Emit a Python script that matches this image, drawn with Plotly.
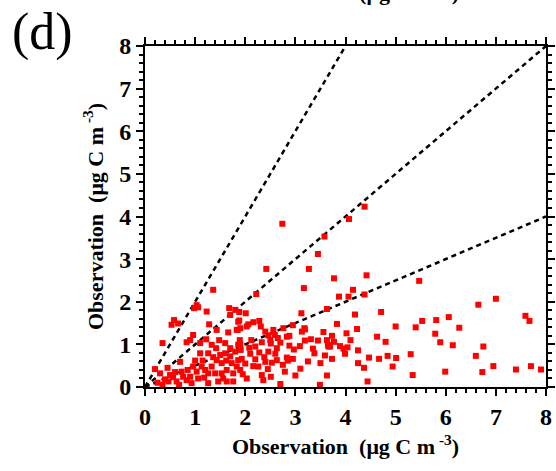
import plotly.graph_objects as go

# Observation pairs (x, y)
obs_x = [
    2.74, 2.42, 1.36, 3.58, 3.45, 3.27, 3.77, 3.17, 4.07, 4.38, 4.42, 5.47, 4.15, 4.38, 3.87, 4.06, 2.22,
    7.00, 6.65, 6.06, 5.81, 7.59, 7.67, 6.27, 5.79, 5.89, 6.14, 6.75, 6.60, 6.95, 5.99, 6.73, 7.40, 7.70, 7.90,
    4.19, 4.71, 3.83, 4.23, 5.00, 5.53, 5.40, 3.73, 4.02, 4.63, 4.10, 4.80, 3.69, 3.89, 4.04, 3.96, 3.99, 4.25,
    3.73, 4.47, 4.67, 4.84, 5.01, 5.30, 4.25, 4.37, 4.94, 5.34, 4.44,
    1.88, 2.01, 1.88, 2.06, 2.16, 2.28, 2.31, 3.12, 3.63, 3.19, 1.85, 2.46, 2.88, 3.56, 1.89, 2.12, 2.33, 2.51,
    2.70, 2.88, 2.97, 3.09, 3.19, 3.31, 3.45, 3.63, 3.65, 3.77, 1.91, 2.10, 2.28, 2.46, 2.63, 2.83, 2.85, 3.38,
    3.50, 3.59, 1.93, 2.00, 2.16, 2.26, 2.40, 2.53, 2.63, 3.10, 2.79, 1.90, 2.03, 2.33, 2.36, 2.51, 2.70, 3.49,
    3.63, 2.56, 2.59, 2.76, 2.83, 3.13, 3.18, 3.66, 2.40, 2.50, 1.90, 2.03,
    1.03, 0.98, 1.06, 1.23, 1.68, 0.58, 0.66, 0.53, 1.28, 1.70, 1.80, 0.35, 0.96, 0.90, 0.83, 1.66, 1.33, 1.48,
    1.42, 1.10, 1.26, 1.60, 1.70, 1.60, 0.20, 0.30, 0.35, 0.50, 0.56, 0.47, 0.63, 0.73, 0.76, 0.83, 0.90, 0.93,
    0.70, 0.96, 1.03, 1.13, 1.20, 1.26, 1.06, 1.33, 1.43, 1.53, 1.40, 1.53, 1.63, 1.73, 1.76, 1.83, 1.86, 1.26,
    1.46, 1.63, 1.76, 1.50, 1.80, 1.86, 1.43, 1.83, 1.86,
    0.40, 0.60, 0.68, 0.85, 1.00, 1.15, 1.18, 1.36, 1.56, 1.70, 1.95, 2.20, 2.20, 2.45, 2.60, 2.75, 2.95, 3.00,
    3.25, 3.35, 1.10, 1.22, 2.65, 2.95, 0.25, 0.45, 1.90, 2.08, 2.38, 1.62,
]
obs_y = [
    3.83, 2.77, 2.28, 3.53, 3.12, 2.77, 2.55, 2.32, 3.94, 4.23, 2.62, 2.49, 2.28, 2.17, 2.12, 2.12, 2.18,
    2.07, 1.93, 1.64, 1.57, 1.67, 1.55, 1.39, 1.25, 1.05, 0.98, 0.95, 0.73, 0.49, 0.36, 0.35, 0.41, 0.49, 0.41,
    1.70, 1.76, 1.48, 1.36, 1.42, 1.55, 1.40, 1.20, 1.26, 1.18, 1.10, 1.06, 0.95, 0.96, 0.93, 0.90, 0.78, 0.86,
    0.66, 0.69, 0.66, 0.73, 0.68, 0.77, 0.56, 0.45, 0.48, 0.28, 0.13,
    1.76, 1.73, 1.56, 1.47, 1.52, 1.55, 1.42, 1.73, 1.83, 1.35, 1.34, 1.21, 1.20, 1.29, 1.10, 1.10, 1.05, 1.02,
    1.04, 0.97, 0.88, 0.96, 1.09, 1.12, 1.09, 1.10, 0.99, 1.06, 0.87, 0.78, 0.81, 0.83, 0.91, 0.69, 0.62, 0.79,
    0.56, 0.74, 0.66, 0.55, 0.49, 0.48, 0.59, 0.57, 0.63, 0.43, 0.36, 0.40, 0.20, 0.28, 0.16, 0.24, 0.07, 0.05,
    0.27, 1.34, 1.22, 1.38, 1.18, 1.30, 1.38, 0.95, 1.30, 1.10, 1.38, 1.42,
    1.92, 1.85, 1.87, 1.77, 1.85, 1.57, 1.49, 1.46, 1.47, 1.69, 1.81, 1.03, 1.22, 1.10, 1.05, 1.28, 0.99, 1.10,
    0.91, 0.79, 0.79, 1.03, 0.91, 0.79, 0.42, 0.32, 0.05, 0.28, 0.23, 0.13, 0.13, 0.36, 0.24, 0.16, 0.24, 0.09,
    0.59, 0.48, 0.36, 0.48, 0.40, 0.32, 0.20, 0.48, 0.63, 0.56, 0.32, 0.32, 0.40, 0.56, 0.32, 0.48, 0.63, 0.09,
    0.13, 0.13, 0.13, 0.75, 0.83, 0.99, 1.34, 1.34, 1.53,
    0.18, 0.35, 0.05, 0.40, 0.62, 0.62, 0.22, 0.70, 0.20, 0.72, 0.30, 0.65, 0.95, 0.42, 0.78, 0.52, 0.66, 0.27,
    0.60, 0.90, 1.03, 1.12, 1.15, 1.45, 0.10, 0.45, 1.00, 0.92, 0.70, 0.62,
]

# reference lines y = r * x (2:1, 1:1, 1:2)
ratios = [2.0, 1.0, 0.5]
axis_max = 8
tick_vals = [0, 1, 2, 3, 4, 5, 6, 7, 8]

title_txt = "Observation  (\u03bcg C m<sup> -3</sup>)"
serif = "Liberation Serif, Times New Roman, serif"

fig = go.Figure()
for r in ratios:
    xe = min(axis_max, axis_max / r)
    fig.add_trace(go.Scatter(x=[0, xe], y=[0, r * xe], mode="lines",
                             line=dict(color="black", width=2.5, dash="5px,4px"),
                             showlegend=False, hoverinfo="skip"))

fig.add_trace(go.Scatter(x=obs_x, y=obs_y, mode="markers",
                         marker=dict(symbol="square", size=6, color="#ff0000",
                                     line=dict(width=0)),
                         showlegend=False))

axis_common = dict(
    range=[0, axis_max], tickvals=tick_vals, showgrid=False, zeroline=False,
    showline=True, linecolor="black", linewidth=2, mirror="allticks",
    ticks="outside", ticklen=7, tickwidth=2, tickcolor="black", automargin=False,
    minor=dict(dtick=0.2, ticks="outside", ticklen=4, tickwidth=1.5, tickcolor="black", showgrid=False),
    tickfont=dict(family=serif, size=24, color="black", weight="bold"),
)

fig.update_xaxes(**axis_common,
                 title=dict(text=title_txt, standoff=10,
                            font=dict(family=serif, size=22, color="black", weight="bold")))
fig.update_yaxes(**axis_common,
                 title=dict(text=title_txt, standoff=10,
                            font=dict(family=serif, size=22, color="black", weight="bold")))

fig.add_annotation(text="(d)", xref="paper", yref="paper", x=-0.255, y=1.04,
                   xanchor="center", yanchor="middle", showarrow=False,
                   font=dict(family=serif, size=52, color="black"))
# cut-off title of the panel above
fig.add_annotation(text=title_txt, xref="paper", yref="paper", x=0.5, y=1.115,
                   xanchor="center", yanchor="bottom", showarrow=False,
                   font=dict(family=serif, size=22, color="black", weight="bold"))

fig.update_layout(width=556, height=471, margin=dict(l=145, r=10, t=46, b=84),
                  paper_bgcolor="white", plot_bgcolor="white")

fig.write_html("out.html")
